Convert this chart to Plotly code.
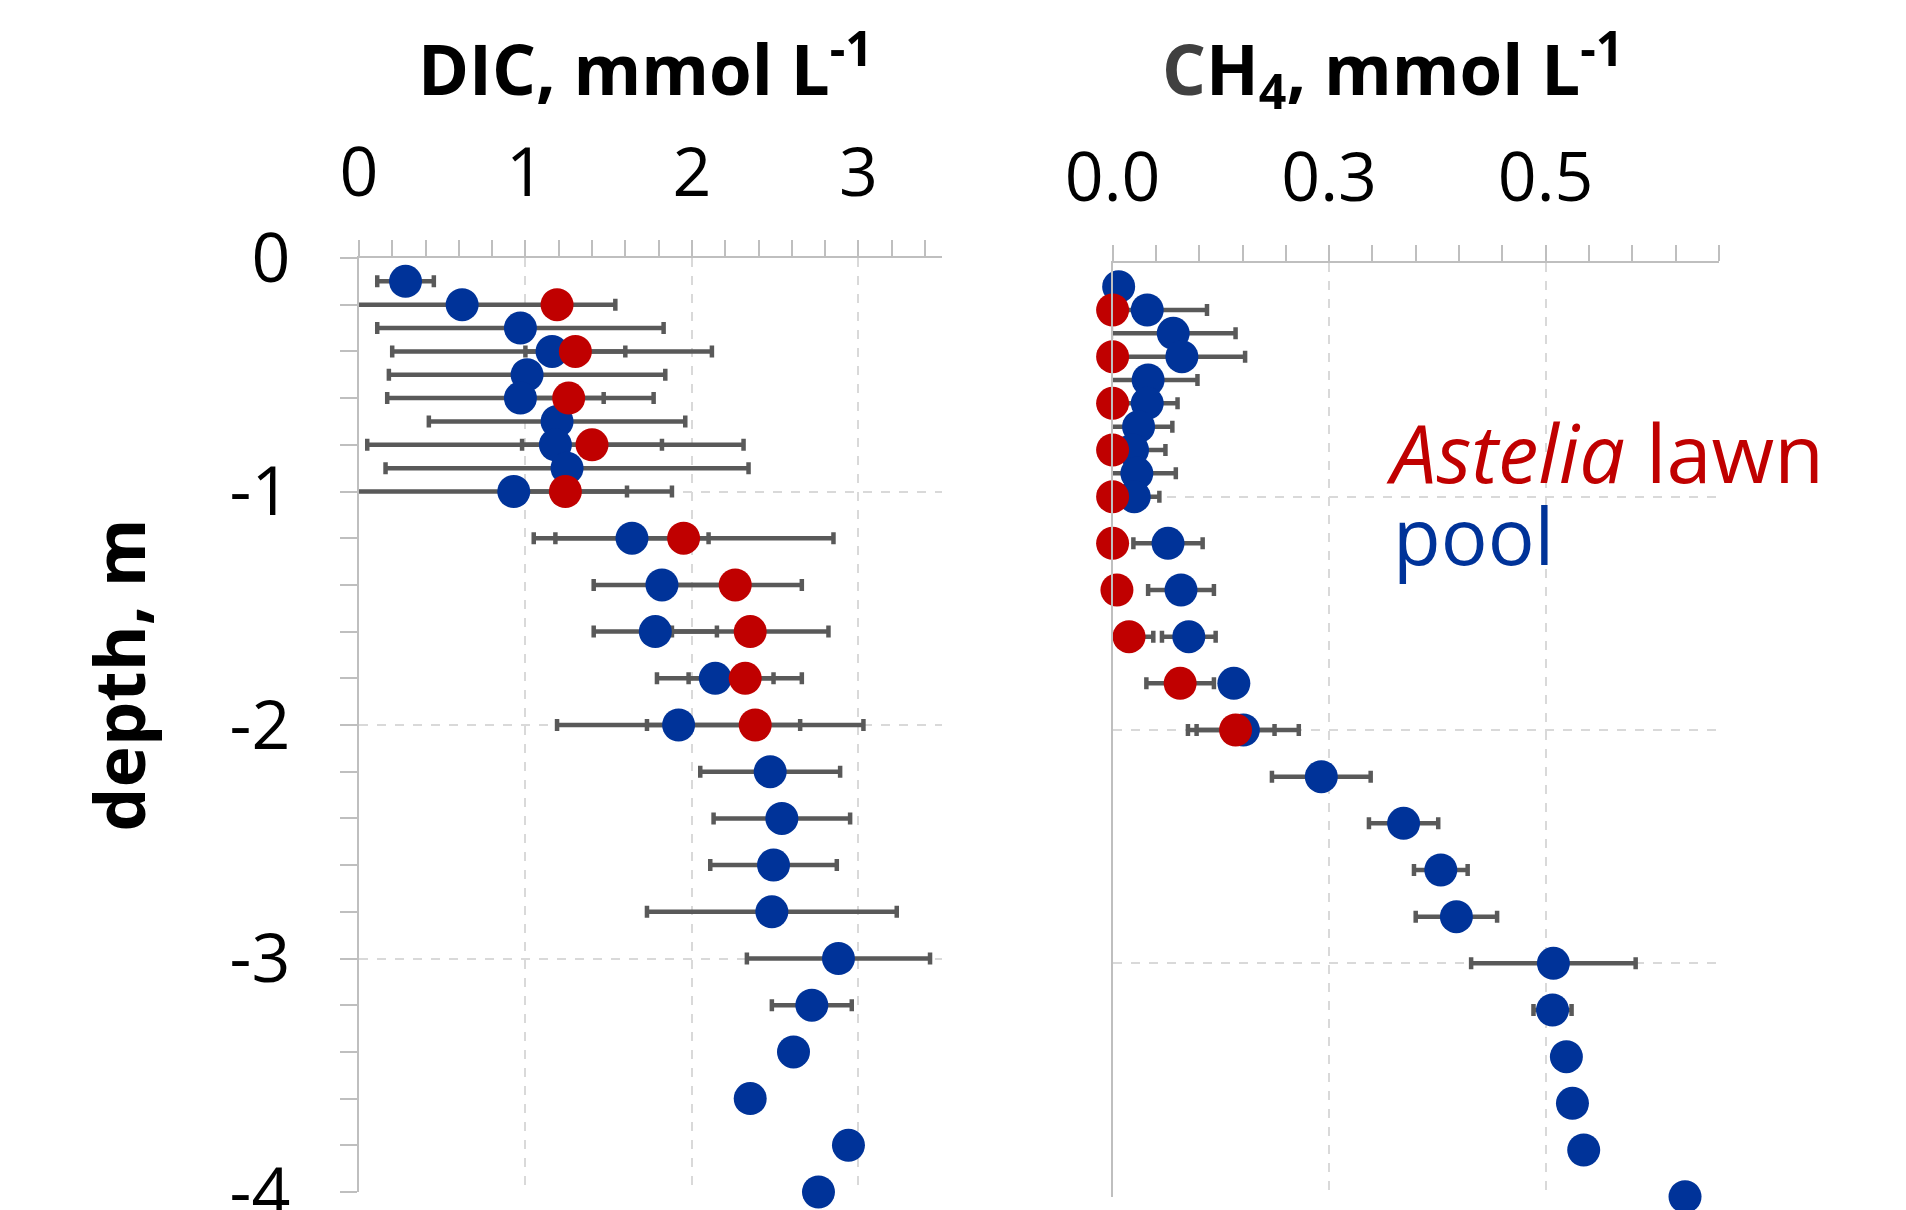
import plotly.graph_objects as go

# ---------------- data ----------------
pool_depth = [-0.1, -0.2, -0.3, -0.4, -0.5, -0.6, -0.7, -0.8, -0.9, -1.0,
              -1.2, -1.4, -1.6, -1.8, -2.0, -2.2, -2.4, -2.6, -2.8, -3.0,
              -3.2, -3.4, -3.6, -3.8, -4.0]
lawn_depth = [-0.2, -0.4, -0.6, -0.8, -1.0, -1.2, -1.4, -1.6, -1.8, -2.0]

dic_pool = [0.28, 0.62, 0.97, 1.16, 1.01, 0.97, 1.19, 1.18, 1.25, 0.93,
            1.64, 1.82, 1.78, 2.14, 1.92, 2.47, 2.54, 2.49, 2.48, 2.88,
            2.72, 2.61, 2.35, 2.94, 2.76]
dic_pool_err = [0.17, 0.92, 0.86, 0.96, 0.83, 0.80, 0.77, 1.13, 1.09, 0.95,
                0.46, 0.41, 0.37, 0.35, 0.73, 0.42, 0.41, 0.38, 0.75, 0.55,
                0.24, None, None, None, None]
dic_lawn = [1.19, 1.30, 1.26, 1.40, 1.24, 1.95, 2.26, 2.35, 2.32, 2.38]
dic_lawn_err = [None, 0.30, 0.21, 0.42, 0.37, 0.90, 0.40, 0.47, 0.34, 0.65]

ch4_pool = [0.007, 0.040, 0.070, 0.080, 0.041, 0.040, 0.030, 0.023, 0.028, 0.025,
            0.064, 0.079, 0.088, 0.140, 0.151, 0.241, 0.336, 0.379, 0.397, 0.509,
            0.508, 0.524, 0.531, 0.544, 0.661]
ch4_pool_err = [None, 0.069, 0.072, 0.073, 0.057, 0.035, 0.039, 0.038, 0.045, 0.029,
                0.040, 0.038, 0.031, None, 0.064, 0.057, 0.040, 0.031, 0.047, 0.095,
                0.022, None, None, None, None]
ch4_lawn = [0.0, 0.0, 0.0, 0.0, 0.0, 0.0, 0.005, 0.019, 0.078, 0.142]
ch4_lawn_err = [None, None, None, None, None, None, None, 0.028, 0.039, 0.045]

# ---------------- style ----------------
BLUE = "#003399"
RED = "#C00000"
ERR = "#595959"
AXC = "#BFBFBF"
GRID = "#D9D9D9"
FONT = "Open Sans, Noto Sans, sans-serif"

fig = go.Figure()


def err_trace(x, y, e, xa, ya):
    return go.Scatter(
        x=x, y=y, xaxis=xa, yaxis=ya, mode="markers",
        marker=dict(size=2, opacity=0),
        error_x=dict(type="data", array=e, symmetric=True, color=ERR,
                     thickness=4.5, width=6),
        hoverinfo="skip", showlegend=False)


def pt_trace(x, y, color, xa, ya, name):
    return go.Scatter(
        x=x, y=y, xaxis=xa, yaxis=ya, mode="markers", name=name,
        marker=dict(size=33, color=color, line=dict(width=0)),
        cliponaxis=False, showlegend=False)


# error bars first (below all markers)
fig.add_trace(err_trace(dic_pool, pool_depth, dic_pool_err, "x", "y"))
fig.add_trace(err_trace(dic_lawn, lawn_depth, dic_lawn_err, "x", "y"))
fig.add_trace(err_trace(ch4_pool, pool_depth, ch4_pool_err, "x2", "y2"))
fig.add_trace(err_trace(ch4_lawn, lawn_depth, ch4_lawn_err, "x2", "y2"))
# markers
fig.add_trace(pt_trace(dic_pool, pool_depth, BLUE, "x", "y", "pool"))
fig.add_trace(pt_trace(dic_lawn, lawn_depth, RED, "x", "y", "Astelia lawn"))
fig.add_trace(pt_trace(ch4_pool, pool_depth, BLUE, "x2", "y2", "pool"))
fig.add_trace(pt_trace(ch4_lawn, lawn_depth, RED, "x2", "y2", "Astelia lawn"))

W, H = 1906, 1210
OFF = 8  # page body margin


def px(xp):
    return (xp - OFF) / W


def py(yp):
    return 1 - (yp - OFF) / H


Lx = [px(358.9), px(941.7)]
Ly = [py(1192), py(258)]
Rx = [px(1112.6), px(1718.8)]
Ry = [py(1196.7), py(263.3)]

tickfont = dict(family=FONT, size=68, color="black")
minus = {"\u22121": "-1", "\u22122": "-2", "\u22123": "-3", "\u22124": "-4"}

common = dict(automargin=False, zeroline=False)

fig.update_layout(
    width=W, height=H, margin=dict(l=0, r=0, t=0, b=0, autoexpand=False),
    paper_bgcolor="white", plot_bgcolor="white", showlegend=False,
    xaxis=dict(domain=Lx, range=[0, 3.5], side="top", anchor="y",
               tickmode="linear", tick0=0, dtick=1,
               ticks="outside", ticklen=16, tickwidth=2, tickcolor=AXC,
               minor=dict(tick0=0, dtick=0.2, ticks="outside", ticklen=16,
                          tickwidth=2, tickcolor=AXC, showgrid=False),
               showline=True, linecolor=AXC, linewidth=2,
               showgrid=True, gridcolor=GRID, gridwidth=1.5, griddash="dash",
               tickfont=tickfont, ticklabelstandoff=17,
               ticklabeloverflow="allow", **common),
    xaxis3=dict(overlaying="x", range=[0, 3.5], side="top", anchor="y",
                tickmode="linear", tick0=0, dtick=1,
                ticks="inside", ticklen=15, tickwidth=2, tickcolor=AXC,
                minor=dict(tick0=0, dtick=0.2, ticks="inside", ticklen=15,
                           tickwidth=2, tickcolor=AXC, showgrid=False),
                showticklabels=False, showline=False, showgrid=False, **common),
    yaxis=dict(domain=Ly, range=[-4, 0], anchor="x",
               tickmode="linear", tick0=0, dtick=1,
               ticks="outside", ticklen=17, tickwidth=2, tickcolor=AXC,
               minor=dict(tick0=0, dtick=0.2, ticks="outside", ticklen=17,
                          tickwidth=2, tickcolor=AXC, showgrid=False),
               showline=True, linecolor=AXC, linewidth=2,
               showgrid=True, gridcolor=GRID, gridwidth=1.5, griddash="dash",
               tickfont=tickfont, ticklabelstandoff=36,
               ticklabeloverflow="allow", labelalias=minus, **common),
    yaxis3=dict(overlaying="y", range=[-4, 0], anchor="x", side="left",
                tickmode="linear", tick0=0, dtick=1,
                ticks="inside", ticklen=17, tickwidth=2, tickcolor=AXC,
                minor=dict(tick0=0, dtick=0.2, ticks="inside", ticklen=17,
                           tickwidth=2, tickcolor=AXC, showgrid=False),
                showticklabels=False, showline=False, showgrid=False, **common),
    xaxis2=dict(domain=Rx, range=[0, 0.7], side="top", anchor="y2",
                tickmode="linear", tick0=0, dtick=0.25, tickformat=".1f",
                labelalias={"0.2": "0.3"},
                ticks="outside", ticklen=16, tickwidth=2, tickcolor=AXC,
                minor=dict(tick0=0, dtick=0.05, ticks="outside", ticklen=16,
                           tickwidth=2, tickcolor=AXC, showgrid=False),
                showline=True, linecolor=AXC, linewidth=2,
                showgrid=True, gridcolor=GRID, gridwidth=1.5, griddash="dash",
                tickfont=tickfont, ticklabelstandoff=17,
                ticklabeloverflow="allow", **common),
    xaxis4=dict(overlaying="x2", range=[0, 0.7], side="top", anchor="y2",
                tickmode="linear", tick0=0, dtick=0.25,
                ticks="inside", ticklen=16, tickwidth=2, tickcolor=AXC,
                minor=dict(tick0=0, dtick=0.05, ticks="inside", ticklen=16,
                           tickwidth=2, tickcolor=AXC, showgrid=False),
                showticklabels=False, showline=False, showgrid=False, **common),
    yaxis2=dict(domain=Ry, range=[-4, 0], anchor="x2",
                tickmode="linear", tick0=0, dtick=1, ticks="",
                showticklabels=False,
                showline=True, linecolor=AXC, linewidth=2,
                showgrid=True, gridcolor=GRID, gridwidth=1.5, griddash="dash",
                **common),
)

titlefont = dict(family=FONT, size=69, color="black")
fig.add_annotation(x=637 / W, y=1 - 56 / H, xref="paper", yref="paper",
                   xanchor="center", yanchor="middle", showarrow=False,
                   text="<b>DIC, mmol L<sup>-1</sup></b>", font=titlefont)
fig.add_annotation(x=1384 / W, y=1 - 60 / H, xref="paper", yref="paper",
                   xanchor="center", yanchor="middle", showarrow=False,
                   text="<b><span style='color:#404040'>C</span>H<sub>4</sub>, mmol L<sup>-1</sup></b>",
                   font=titlefont)
fig.add_annotation(x=109.7 / W, y=1 - 667 / H, xref="paper", yref="paper",
                   xanchor="center", yanchor="middle", showarrow=False,
                   textangle=-90, text="<b>depth, m</b>",
                   font=dict(family=FONT, size=70, color="black"))
fig.add_annotation(x=1376 / W, y=1 - 443 / H, xref="paper", yref="paper",
                   xanchor="left", yanchor="middle", showarrow=False,
                   text="<i>Astelia</i> lawn",
                   font=dict(family=FONT, size=81, color=RED))
fig.add_annotation(x=1383 / W, y=1 - 527 / H, xref="paper", yref="paper",
                   xanchor="left", yanchor="middle", showarrow=False,
                   text="pool",
                   font=dict(family=FONT, size=78, color=BLUE))

fig.write_html("out.html")
